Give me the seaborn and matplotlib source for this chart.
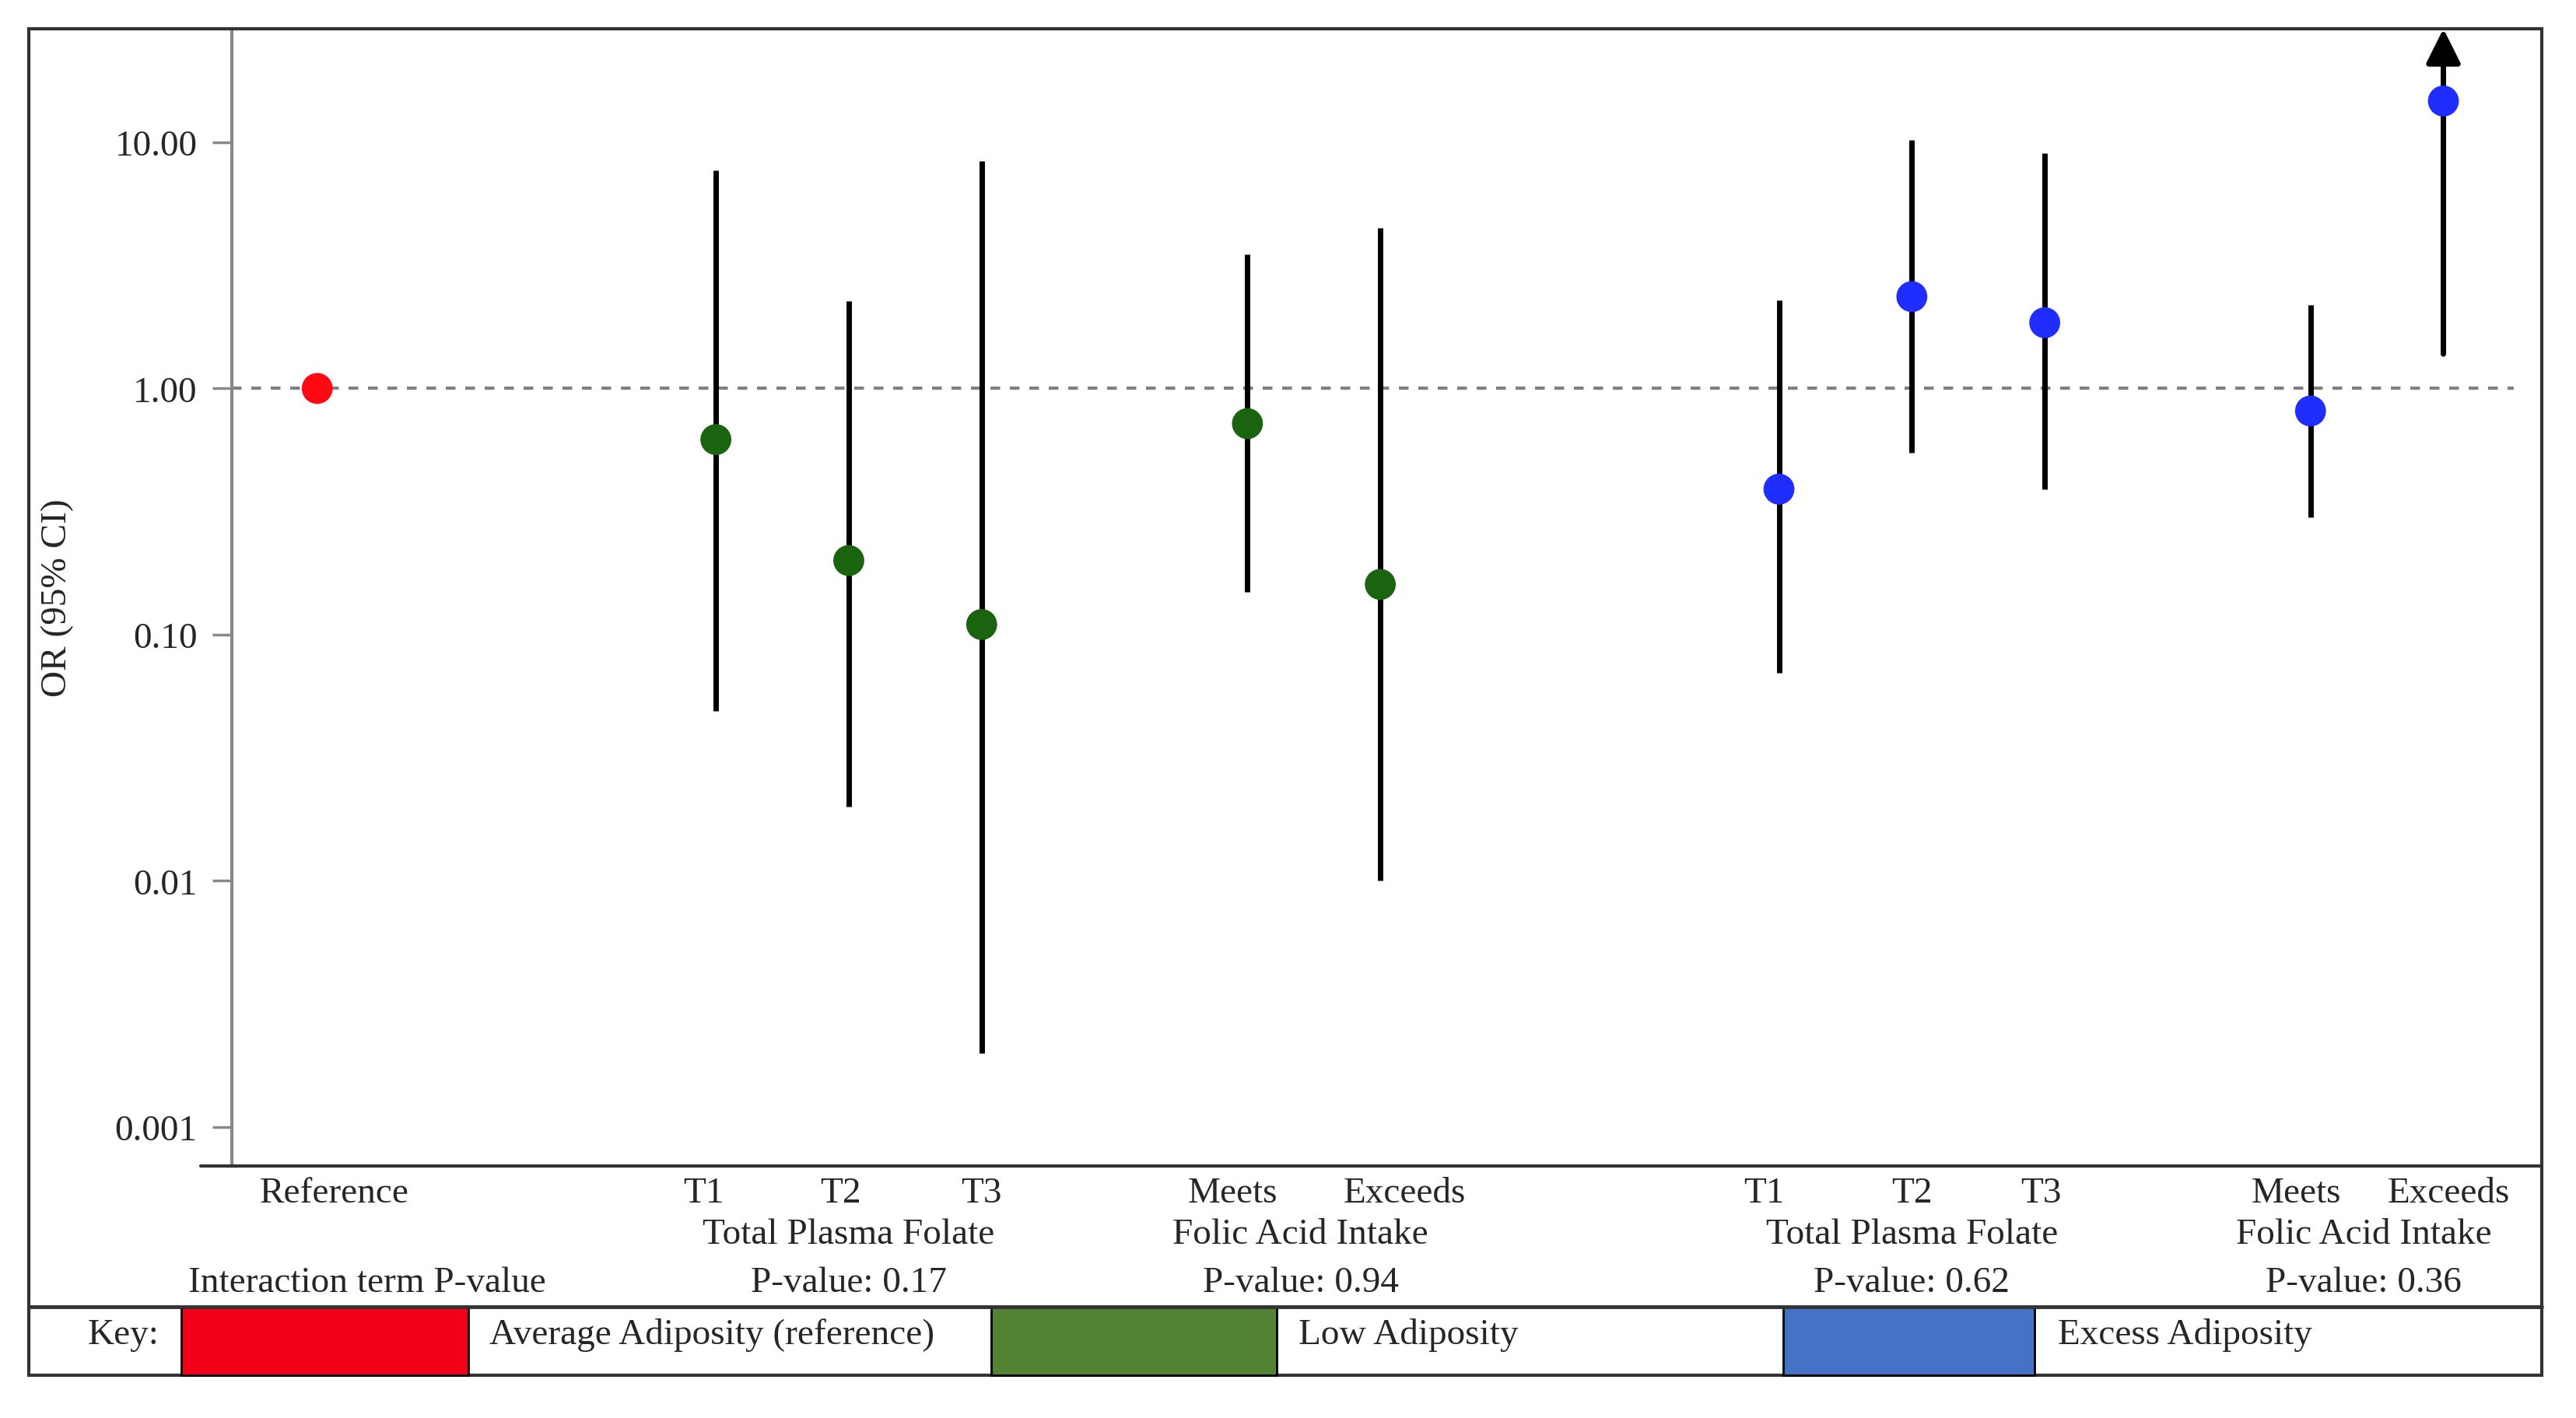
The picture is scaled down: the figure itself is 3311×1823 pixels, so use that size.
import numpy as np
import pandas as pd
import matplotlib.pyplot as plt
from matplotlib.patches import Rectangle
from matplotlib.lines import Line2D
from matplotlib.transforms import blended_transform_factory
import seaborn as sns


# data
categories = ['Reference', 'T1', 'T2', 'T3', 'Meets', 'Exceeds',
              'T1', 'T2', 'T3', 'Meets', 'Exceeds']
groups = ['Average', 'Low', 'Low', 'Low', 'Low', 'Low',
          'Excess', 'Excess', 'Excess', 'Excess', 'Excess']
odds_ratio = [1.00, 0.62, 0.20, 0.11, 0.72, 0.16, 0.39, 2.36, 1.85, 0.81, 14.7]
ci_low = [np.nan, 0.049, 0.020, 0.002, 0.149, 0.010, 0.070, 0.55, 0.39, 0.30, 1.38]
ci_high = [np.nan, 7.7, 2.26, 8.4, 3.5, 4.5, 2.29, 10.2, 9.0, 2.19, np.inf]

exposure_labels = ['Total Plasma Folate', 'Folic Acid Intake',
                   'Total Plasma Folate', 'Folic Acid Intake']
p_labels = ['P-value: 0.17', 'P-value: 0.94', 'P-value: 0.62', 'P-value: 0.36']
key_labels = ['Average Adiposity (reference)', 'Low Adiposity', 'Excess Adiposity']

y_ticks = [0.001, 0.01, 0.1, 1, 10]
y_tick_labels = ['0.001', '0.01', '0.10', '1.00', '10.00']

# layout
gap_before = [0, 3, 1, 1, 2, 1, 3, 1, 1, 2, 1]
label_shift = [0.13, -0.09, -0.06, 0, -0.11, 0.18, -0.11, 0, -0.03, -0.11, 0.04]
exposure_x = [4.0, 7.4, 12.0, 15.4]
point_colors = {'Average': '#ff0a14', 'Low': '#1b640f', 'Excess': '#1f2dff'}
key_colors = ['#f20017', '#548235', '#4472c4']

sns.set_theme(style='white')
plt.rcParams['font.family'] = ['Liberation Serif', 'DejaVu Serif']
FS = 34

df = pd.DataFrame({
    'pos': np.cumsum(gap_before),
    'label': categories,
    'group': groups,
    'or': odds_ratio,
    'lo': ci_low,
    'hi': ci_high,
})

fig = plt.figure(figsize=(33.12, 18.24), dpi=100)
ax = fig.add_axes([0.0900, 0.1776, 0.8964, 0.8016])
ax.set_yscale('log')
ax.set_ylim(10 ** -3.158, 10 ** 1.461)
ax.set_xlim(-0.642, 16.74)

# reference line
ax.axhline(1, xmin=0, xmax=0.988, color='#808080', lw=3, ls=(0, (3, 3)), zorder=1)

# confidence intervals
ci = df.dropna(subset=['lo'])
closed = ci[np.isfinite(ci['hi'])]
ax.vlines(closed['pos'], closed['lo'], closed['hi'], color='black', lw=5, zorder=2)
open_top = ci[~np.isfinite(ci['hi'])]
trans = blended_transform_factory(ax.transData, ax.transAxes)
for _, r in open_top.iterrows():
    ax.annotate('', xy=(r['pos'], 1.0), xycoords=trans,
                xytext=(r['pos'], r['lo']), textcoords='data',
                arrowprops=dict(arrowstyle='-|>,head_length=0.9,head_width=0.45',
                                mutation_scale=30, lw=5, color='black',
                                shrinkA=0, shrinkB=0),
                annotation_clip=False, zorder=2)

sns.scatterplot(data=df, x='pos', y='or', hue='group', palette=point_colors,
                s=820, edgecolor='none', legend=False, ax=ax, zorder=3)

ax.set_yticks(y_ticks)
ax.set_yticklabels(y_tick_labels, fontsize=FS)
ax.yaxis.set_minor_locator(plt.NullLocator())
ax.tick_params(axis='y', which='major', left=True, length=18, width=2.5,
               color='#888888', pad=14)
ax.set_xticks([])
ax.set_xlabel('')
ax.set_ylabel('OR (95% CI)', fontsize=FS)
ax.yaxis.set_label_coords(-0.0684, 0.5)

for side in ['top', 'right', 'bottom']:
    ax.spines[side].set_visible(False)
ax.spines['left'].set_color('#888888')
ax.spines['left'].set_linewidth(3)

# labels under the axis
ftrans = blended_transform_factory(ax.transData, fig.transFigure)
for x, dx, lab in zip(df['pos'], label_shift, df['label']):
    ax.text(x + dx, 0.1585, lab, transform=ftrans, ha='center', va='center', fontsize=FS)
for x, lab in zip(exposure_x, exposure_labels):
    ax.text(x, 0.1294, lab, transform=ftrans, ha='center', va='center', fontsize=FS)
ax.text(0.377, 0.0956, 'Interaction term P-value', transform=ftrans,
        ha='center', va='center', fontsize=FS)
for x, lab in zip(exposure_x, p_labels):
    ax.text(x, 0.0956, lab, transform=ftrans, ha='center', va='center', fontsize=FS)

# frame and key row
fig.add_artist(Rectangle((0.0112, 0.0302), 0.9752, 0.9490, fill=False,
                         lw=3, ec='#333333', transform=fig.transFigure))
fig.add_artist(Line2D([0.0779, 0.9864], [0.1776, 0.1776], color='#333333',
                      lw=3, transform=fig.transFigure))
fig.add_artist(Line2D([0.0112, 0.9864], [0.0784, 0.0784], color='#333333',
                      lw=3.5, transform=fig.transFigure))

fig.text(0.048, 0.0588, 'Key:', ha='center', va='center', fontsize=FS)
box_x = [(0.0705, 0.1818), (0.3846, 0.4955), (0.6920, 0.7895)]
text_x = [0.190, 0.5038, 0.7985]
for (x0, x1), col, tx, lab in zip(box_x, key_colors, text_x, key_labels):
    fig.add_artist(Rectangle((x0, 0.0302), x1 - x0, 0.0482, fc=col, ec='black',
                             lw=2, transform=fig.transFigure))
    fig.text(tx, 0.0588, lab, ha='left', va='center', fontsize=FS)

fig.savefig('out.png', dpi=100, facecolor='white')
